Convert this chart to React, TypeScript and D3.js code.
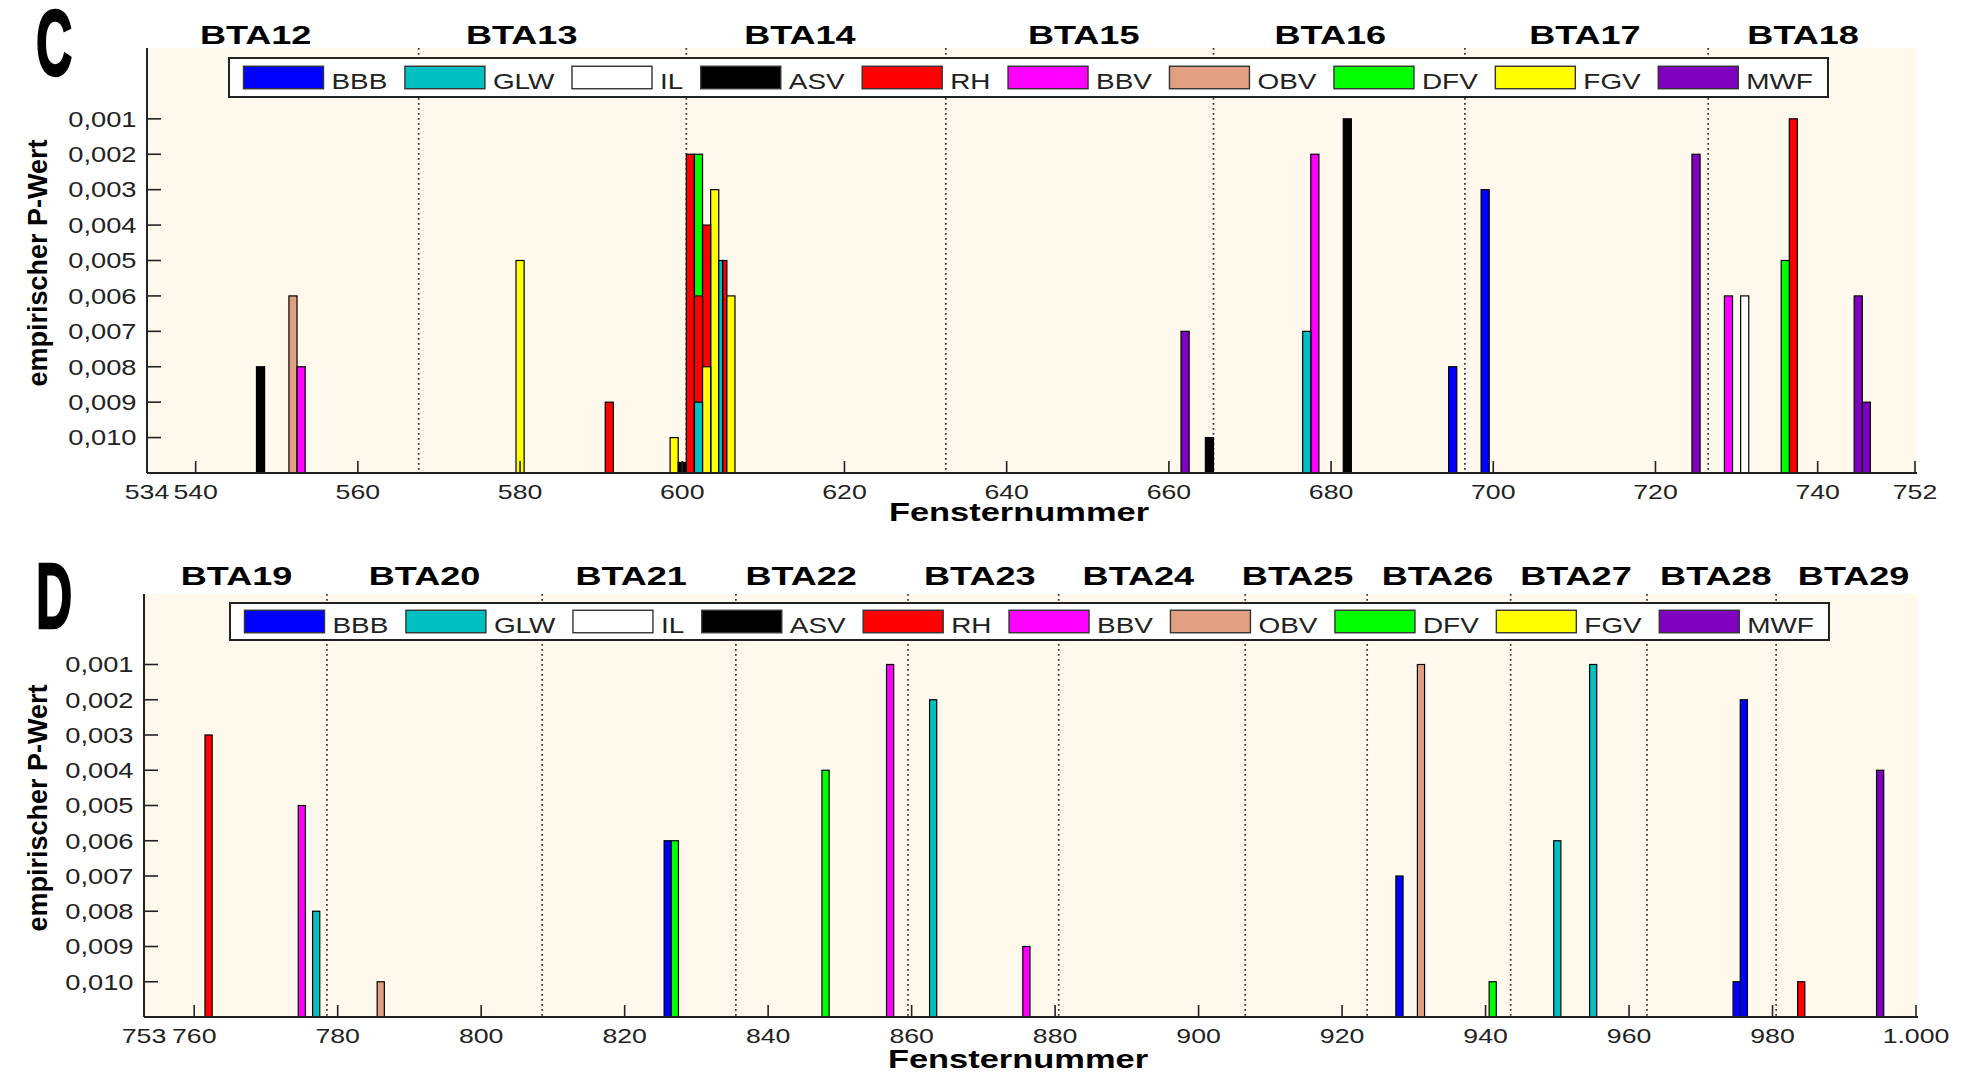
import React from 'react';
import * as d3 from 'd3';

// Traits shown as bar series, in legend order
const SERIES = ['BBB', 'GLW', 'IL', 'ASV', 'RH', 'BBV', 'OBV', 'DFV', 'FGV', 'MWF'];
const SERIES_COLORS = ['#0000ff', '#00bfbf', '#ffffff', '#000000', '#ff0000', '#ff00ff', '#df9f80', '#00ff00', '#ffff00', '#7f00bf'];

// Panel C (BTA12–BTA18): [Fensternummer, empirischer P-Wert]
const cBBB: [number, number][] = [[695, 0.008], [699, 0.003]];
const cGLW: [number, number][] = [[602, 0.009], [605, 0.005], [677, 0.007]];
const cIL: [number, number][] = [[731, 0.006]];
const cASV: [number, number][] = [[548, 0.008], [600, 0.0107], [665, 0.01], [682, 0.001]];
const cRH: [number, number][] = [[591, 0.009], [601, 0.002], [602, 0.006], [603, 0.004], [605, 0.005], [737, 0.001]];
const cBBV: [number, number][] = [[553, 0.008], [678, 0.002], [729, 0.006]];
const cOBV: [number, number][] = [[552, 0.006]];
const cDFV: [number, number][] = [[602, 0.002], [736, 0.005]];
const cFGV: [number, number][] = [[580, 0.005], [599, 0.01], [603, 0.008], [604, 0.003], [606, 0.006]];
const cMWF: [number, number][] = [[662, 0.007], [725, 0.002], [745, 0.006], [746, 0.009]];

// Panel D (BTA19–BTA29)
const dBBB: [number, number][] = [[826, 0.006], [928, 0.007], [975, 0.01], [976, 0.002]];
const dGLW: [number, number][] = [[777, 0.008], [863, 0.002], [950, 0.006], [955, 0.001]];
const dIL: [number, number][] = [];
const dASV: [number, number][] = [];
const dRH: [number, number][] = [[762, 0.003], [984, 0.01]];
const dBBV: [number, number][] = [[775, 0.005], [857, 0.001], [876, 0.009]];
const dOBV: [number, number][] = [[786, 0.01], [931, 0.001]];
const dDFV: [number, number][] = [[827, 0.006], [848, 0.004], [941, 0.01]];
const dFGV: [number, number][] = [];
const dMWF: [number, number][] = [[995, 0.004]];

// Chromosome names, where each name sits (in window numbers) and the window borders between chromosomes
const cChromosomes = ['BTA12', 'BTA13', 'BTA14', 'BTA15', 'BTA16', 'BTA17', 'BTA18'];
const cChromosomeLabelAt = [547.4, 580.2, 614.5, 649.5, 679.9, 711.3, 738.2];
const cBorders = [567.5, 600.5, 632.5, 665.5, 696.5, 726.5];
const cWindowDomain: [number, number] = [534, 752];
const cWindowTicks = [534, 540, 560, 580, 600, 620, 640, 660, 680, 700, 720, 740, 752];

const dChromosomes = ['BTA19', 'BTA20', 'BTA21', 'BTA22', 'BTA23', 'BTA24', 'BTA25', 'BTA26', 'BTA27', 'BTA28', 'BTA29'];
const dChromosomeLabelAt = [765.9, 792.1, 820.9, 844.6, 869.5, 891.6, 913.8, 933.3, 952.6, 972.1, 991.3];
const dBorders = [778.5, 808.5, 835.5, 859.5, 880.5, 906.5, 923.5, 943.5, 962.5, 980.5];
const dWindowDomain: [number, number] = [753, 1000];
const dWindowTicks = [753, 760, 780, 800, 820, 840, 860, 880, 900, 920, 940, 960, 980, 1000];

const pValueTicks = [0.001, 0.002, 0.003, 0.004, 0.005, 0.006, 0.007, 0.008, 0.009, 0.01];
const pValueDomain: [number, number] = [-0.001, 0.011];

const de = d3.formatLocale({ decimal: ',', thousands: '.', grouping: [3], currency: ['', ' €'] });
const fmtP = de.format('.3f');
const fmtWindow = de.format(',');

const FONT = "'Liberation Sans', Arial, sans-serif";
const TEXT_STRETCH = 1.27;
const TITLE_STRETCH = 1.36;
const LABEL_STRETCH = 1.3;

const ctx = typeof document !== 'undefined' ? document.createElement('canvas').getContext('2d') : null;
function textWidth(s: string, font: string) {
  if (!ctx) return s.length * 12;
  ctx.font = font;
  return ctx.measureText(s).width;
}

type PanelProps = {
  letter: string;
  hits: [number, number][][];
  chromosomes: string[];
  labelAt: number[];
  borders: number[];
  domain: [number, number];
  ticks: number[];
  left: number;
  right: number;
  top: number;
  bottom: number;
  titleY: number;
  letterY: number;
  axisTitleGap: number;
  legendX: number;
  legendY: number;
  legendH: number;
};

function Stretched({ x, y, sx, children, ...rest }: any) {
  return (
    <text transform={`translate(${x},${y}) scale(${sx},1)`} {...rest}>
      {children}
    </text>
  );
}

function Panel(p: PanelProps) {
  const x = d3.scaleLinear().domain(p.domain).range([p.left, p.right]);
  const y = d3.scaleLinear().domain(pValueDomain).range([p.top, p.bottom]);
  const base = y(0.011);

  // Flatten hits; tallest bars (smallest p) first so shorter ones stay visible in front
  const bars = p.hits.flatMap((arr, si) => arr.map(([w, pv]) => ({ w, pv, si })));
  const groups = d3.group(bars, (b) => `${b.w}|${b.pv}`);
  const placed = bars
    .map((b) => {
      const g = groups.get(`${b.w}|${b.pv}`)!;
      const k = g.indexOf(b);
      const x0 = x(b.w - 0.5);
      const full = x(b.w + 0.5) - x0;
      return { ...b, bx: x0 + (k * full) / g.length, bw: full / g.length };
    })
    .sort((a, b) => a.pv - b.pv);

  // Legend layout
  const legendFont = `22px ${FONT}`;
  let cursor = p.legendX + 14.5;
  const swW = 80;
  const swH = 22.5;
  const items = SERIES.map((name, i) => {
    const sx = cursor;
    const tx = sx + swW + 8;
    const tw = textWidth(name, legendFont) * TEXT_STRETCH;
    cursor = tx + tw + 17.5;
    return { name, color: SERIES_COLORS[i], sx, tx, end: tx + tw };
  });
  const legendW = items[items.length - 1].end + 15 - p.legendX;
  const swY = p.legendY + (p.legendH - swH) / 2;

  return (
    <g>
      <rect x={p.left} y={p.top} width={p.right - p.left + 2} height={p.bottom - p.top} fill="#fef9ec" />

      {/* chromosome borders */}
      {p.borders.map((b, i) => (
        <line key={i} x1={x(b)} x2={x(b)} y1={p.top} y2={base} stroke="#333" strokeWidth={1.7} strokeDasharray="1.7 3.3" />
      ))}

      {/* bars */}
      {placed.map((b, i) => (
        <rect
          key={i}
          x={b.bx}
          y={y(b.pv)}
          width={b.bw}
          height={base - y(b.pv)}
          fill={SERIES_COLORS[b.si]}
          stroke="#000"
          strokeWidth={1.2}
        />
      ))}

      {/* axes */}
      <line x1={p.left} x2={p.left} y1={p.top} y2={base} stroke="#222" strokeWidth={2} />
      <line x1={p.left} x2={p.right + 2} y1={base} y2={base} stroke="#222" strokeWidth={2} />
      {pValueTicks.map((t) => (
        <g key={t}>
          <line x1={p.left} x2={p.left + 14} y1={y(t)} y2={y(t)} stroke="#222" strokeWidth={1.6} />
          <Stretched x={p.left - 10.5} y={y(t)} sx={TEXT_STRETCH} textAnchor="end" dy="0.36em" fontSize={21.5} fontFamily={FONT} fill="#222">
            {fmtP(t)}
          </Stretched>
        </g>
      ))}
      {p.ticks.map((t, i) => (
        <g key={t}>
          {i > 0 && <line x1={x(t)} x2={x(t)} y1={base} y2={base - 12} stroke="#222" strokeWidth={1.6} />}
          <Stretched x={x(t)} y={base + 25.5} sx={TEXT_STRETCH} textAnchor="middle" fontSize={21} fontFamily={FONT} fill="#222">
            {fmtWindow(t)}
          </Stretched>
        </g>
      ))}

      {/* axis titles */}
      <Stretched x={(p.left + p.right) / 2 - 12} y={base + p.axisTitleGap} sx={LABEL_STRETCH} textAnchor="middle" fontSize={26.5} fontWeight="bold" fontFamily={FONT} fill="#000">
        Fensternummer
      </Stretched>
      <text
        transform={`translate(47,${(p.top + p.bottom) / 2 + 2.5}) rotate(-90)`}
        textAnchor="middle"
        fontSize={27}
        fontWeight="bold"
        fontFamily={FONT}
        fill="#000"
      >
        empirischer P-Wert
      </text>

      {/* chromosome names */}
      {p.chromosomes.map((c, i) => (
        <Stretched key={c} x={x(p.labelAt[i])} y={p.titleY} sx={TITLE_STRETCH} textAnchor="middle" fontSize={26.5} fontWeight="bold" fontFamily={FONT} fill="#000">
          {c}
        </Stretched>
      ))}

      {/* panel letter */}
      <Stretched x={36} y={p.letterY} sx={0.54} fontSize={93} fontWeight="bold" fontFamily={FONT} fill="#000" stroke="#000" strokeWidth={2.5}>
        {p.letter}
      </Stretched>

      {/* legend */}
      <rect x={p.legendX} y={p.legendY} width={legendW} height={p.legendH} fill="#fff" stroke="#222" strokeWidth={2} />
      {items.map((it) => (
        <g key={it.name}>
          <rect x={it.sx} y={swY} width={swW} height={swH} fill={it.color} stroke="#333" strokeWidth={1.4} />
          <Stretched x={it.tx} y={swY + swH} sx={TEXT_STRETCH} fontSize={22} fontFamily={FONT} fill="#222">
            {it.name}
          </Stretched>
        </g>
      ))}
    </g>
  );
}

export default function App() {
  return (
    <svg
      width={1969}
      height={1072}
      viewBox="0 0 1969 1072"
      style={{ position: 'absolute', left: 0, top: 0, background: '#fff' }}
    >
      <rect width={1969} height={1072} fill="#fff" />
      <Panel
        letter="C"
        hits={[cBBB, cGLW, cIL, cASV, cRH, cBBV, cOBV, cDFV, cFGV, cMWF]}
        chromosomes={cChromosomes}
        labelAt={cChromosomeLabelAt}
        borders={cBorders}
        domain={cWindowDomain}
        ticks={cWindowTicks}
        left={147}
        right={1915}
        top={48}
        bottom={473}
        titleY={44}
        letterY={75}
        axisTitleGap={48}
        legendX={229}
        legendY={58}
        legendH={39}
      />
      <Panel
        letter="D"
        hits={[dBBB, dGLW, dIL, dASV, dRH, dBBV, dOBV, dDFV, dFGV, dMWF]}
        chromosomes={dChromosomes}
        labelAt={dChromosomeLabelAt}
        borders={dBorders}
        domain={dWindowDomain}
        ticks={dWindowTicks}
        left={144}
        right={1916}
        top={594}
        bottom={1017}
        titleY={585}
        letterY={628}
        axisTitleGap={51}
        legendX={230}
        legendY={603}
        legendH={37}
      />
    </svg>
  );
}
